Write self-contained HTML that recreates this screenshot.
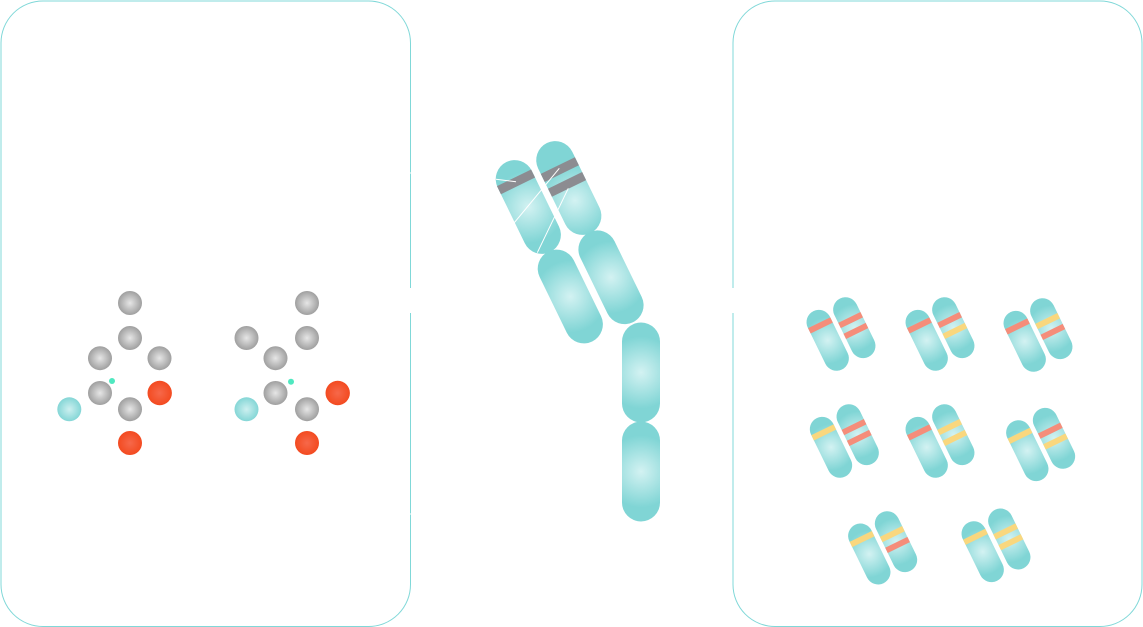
<!DOCTYPE html>
<html>
<head>
<meta charset="utf-8">
<style>
html,body{margin:0;padding:0;background:#fff;width:1143px;height:627px;overflow:hidden}
svg{display:block}
.s{fill:#f58d7a}.y{fill:#f9d77e}.k{fill:#8c8c91}
.a{x:-19px;y:-30px;width:38px;height:9px}
.b{x:-19px;y:-17.5px;width:38px;height:9px}
.d{x:-19px;y:1px;width:38px;height:9px}
</style>
</head>
<body>
<svg width="1143" height="627" viewBox="0 0 1143 627" xmlns="http://www.w3.org/2000/svg">
<defs>
<radialGradient id="t" gradientUnits="userSpaceOnUse" cx="0" cy="0" r="36">
<stop offset="0" stop-color="#d3f2f2"/><stop offset="1" stop-color="#80d5d5"/>
</radialGradient>
<radialGradient id="t2" gradientUnits="userSpaceOnUse" cx="0" cy="14" r="36">
<stop offset="0" stop-color="#d3f2f2"/><stop offset="1" stop-color="#80d5d5"/>
</radialGradient>
<radialGradient id="gr"><stop offset="0" stop-color="#e6e6e6"/><stop offset="1" stop-color="#9f9f9f"/></radialGradient>
<radialGradient id="rd"><stop offset="0" stop-color="#f6684a"/><stop offset="1" stop-color="#f34a20"/></radialGradient>
<radialGradient id="tc"><stop offset="0" stop-color="#cdf0f0"/><stop offset="1" stop-color="#84d6d6"/></radialGradient>
<rect id="c" x="-19" y="-50" width="38" height="100" rx="19" ry="19" fill="url(#t)"/>
</defs>

<rect x="1" y="1" width="409.5" height="625.5" rx="42" ry="42" fill="#fff" stroke="#80d8d8" stroke-width="1"/>
<rect x="733" y="1" width="409" height="625.5" rx="42" ry="42" fill="#fff" stroke="#80d8d8" stroke-width="1"/>
<rect x="405" y="288" width="10" height="25" fill="#fff"/>
<rect x="728" y="288" width="10" height="25" fill="#fff"/>
<rect x="409" y="172.5" width="3" height="1" fill="#fff"/>
<rect x="409" y="513.5" width="3" height="1" fill="#fff"/>

<!-- left molecules -->
<g fill="url(#gr)">
<circle cx="130" cy="303" r="12"/><circle cx="130" cy="338" r="12"/>
<circle cx="100" cy="358.2" r="12"/><circle cx="159.5" cy="358.2" r="12"/>
<circle cx="100" cy="393" r="12"/><circle cx="130" cy="409.2" r="12"/>
<circle cx="307" cy="303" r="12"/><circle cx="307" cy="338" r="12"/>
<circle cx="246.5" cy="338" r="12"/><circle cx="275.5" cy="358.2" r="12"/>
<circle cx="275.5" cy="393" r="12"/><circle cx="307" cy="409.2" r="12"/>
</g>
<g fill="url(#rd)">
<circle cx="159.7" cy="393" r="12.2"/><circle cx="130" cy="443" r="12"/>
<circle cx="337.7" cy="393" r="12.2"/><circle cx="307" cy="443" r="12"/>
</g>
<g fill="url(#tc)">
<circle cx="69.3" cy="409.3" r="12"/><circle cx="246.5" cy="409.3" r="12"/>
</g>
<circle cx="112" cy="381" r="3" fill="#4fe8c0"/>
<circle cx="291" cy="381.7" r="3" fill="#4fe8c0"/>

<!-- central -->
<g transform="translate(641,372.5)"><use href="#c"/></g>
<g transform="translate(641,471.5)"><use href="#c"/></g>
<g transform="translate(570.3,296.5) rotate(-26)"><use href="#c"/></g>
<g transform="translate(611,277.3) rotate(-26)"><use href="#c"/></g>
<g transform="translate(528.3,207) rotate(-26)"><use href="#c"/><rect class="k" x="-19" y="-32.5" width="38" height="9"/></g>
<g transform="translate(568.8,188) rotate(-26)"><rect x="-19" y="-50" width="38" height="100" rx="19" ry="19" fill="url(#t2)"/><rect class="k" x="-19" y="-25" width="38" height="9"/><rect class="k" x="-19" y="-8.5" width="38" height="9"/></g>
<g stroke="#fff" stroke-width="1" fill="none">
<line x1="496" y1="179.3" x2="516" y2="181.7"/>
<line x1="559.3" y1="168.3" x2="514.3" y2="222.7"/>
<line x1="568.3" y1="188.3" x2="537.3" y2="252.7"/>
</g>

<!-- G1 -->
<g transform="translate(827.7,340.3) rotate(-26) scale(.65)"><use href="#c"/><rect class="s a"/></g>
<g transform="translate(854.3,327.7) rotate(-26) scale(.65)"><use href="#c"/><rect class="s b"/><rect class="s d"/></g>
<!-- G2 -->
<g transform="translate(926.7,340.3) rotate(-26) scale(.65)"><use href="#c"/><rect class="s a"/></g>
<g transform="translate(953.3,327.7) rotate(-26) scale(.65)"><use href="#c"/><rect class="s b"/><rect class="y d"/></g>
<!-- G3 -->
<g transform="translate(1024.7,341.3) rotate(-26) scale(.65)"><use href="#c"/><rect class="s a"/></g>
<g transform="translate(1051.3,328.7) rotate(-26) scale(.65)"><use href="#c"/><rect class="y b"/><rect class="s d"/></g>
<!-- G4 -->
<g transform="translate(831,447.3) rotate(-26) scale(.65)"><use href="#c"/><rect class="y a"/></g>
<g transform="translate(857.7,434.7) rotate(-26) scale(.65)"><use href="#c"/><rect class="s b"/><rect class="s d"/></g>
<!-- G5 -->
<g transform="translate(926.7,447.3) rotate(-26) scale(.65)"><use href="#c"/><rect class="s a"/></g>
<g transform="translate(953.3,434.7) rotate(-26) scale(.65)"><use href="#c"/><rect class="y b"/><rect class="y d"/></g>
<!-- G6 -->
<g transform="translate(1027.3,450.7) rotate(-26) scale(.65)"><use href="#c"/><rect class="y a"/></g>
<g transform="translate(1054,438.3) rotate(-26) scale(.65)"><use href="#c"/><rect class="s b"/><rect class="y d"/></g>
<!-- G7 -->
<g transform="translate(869.3,554) rotate(-26) scale(.65)"><use href="#c"/><rect class="y a"/></g>
<g transform="translate(896,541.7) rotate(-26) scale(.65)"><use href="#c"/><rect class="y b"/><rect class="s d"/></g>
<!-- G8 -->
<g transform="translate(982.7,551.7) rotate(-26) scale(.65)"><use href="#c"/><rect class="y a"/></g>
<g transform="translate(1009.3,539) rotate(-26) scale(.65)"><use href="#c"/><rect class="y b"/><rect class="y d"/></g>
</svg>
</body>
</html>
